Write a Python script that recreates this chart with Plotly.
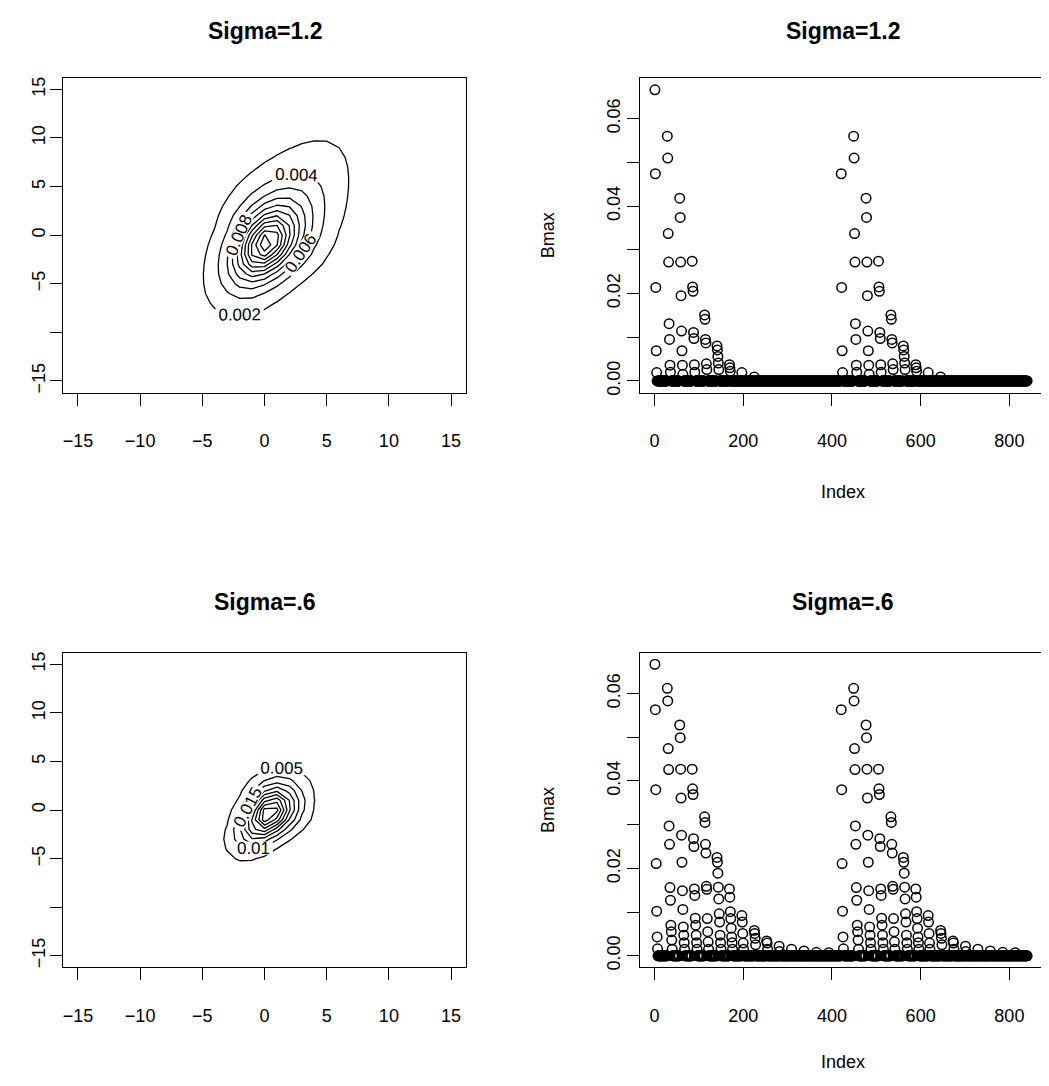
import numpy as np
import plotly.graph_objects as go

# ---------------- data ----------------
n_index = 840
block_size = 28

# Bmax (Sigma=1.2): visible values per block of 28 indices
top_blocks_half1 = [
    [0.0666, 0.0474, 0.0214, 0.0069, 0.0019],
    [0.0560, 0.0510, 0.0337, 0.0272, 0.0131, 0.0095, 0.0036, 0.0020],
    [0.0418, 0.0374, 0.0272, 0.0195, 0.0114, 0.0069, 0.0036, 0.0015],
    [0.0274, 0.0215, 0.0205, 0.0111, 0.0097, 0.0037, 0.0020],
    [0.0151, 0.0141, 0.0095, 0.0087, 0.0039, 0.0026],
    [0.0080, 0.0071, 0.0056, 0.0041, 0.0026],
    [0.0037, 0.0030, 0.0022],
    [0.0019],
    [0.0009],
    [], [], [], [], [], [],
]
top_blocks_half2 = [
    [0.0474, 0.0214, 0.0069, 0.0019],
    [0.0560, 0.0510, 0.0337, 0.0272, 0.0131, 0.0095, 0.0036, 0.0020],
    [0.0418, 0.0374, 0.0272, 0.0195, 0.0114, 0.0069, 0.0036, 0.0015],
    [0.0274, 0.0215, 0.0205, 0.0111, 0.0097, 0.0037, 0.0020],
    [0.0151, 0.0141, 0.0095, 0.0087, 0.0039, 0.0026],
    [0.0080, 0.0071, 0.0056, 0.0041, 0.0026],
    [0.0037, 0.0030, 0.0022],
    [0.0019],
    [0.0009],
    [], [], [], [], [], [],
]

# Bmax (Sigma=.6)
bot_blocks_half1 = [
    [0.0667, 0.0563, 0.0380, 0.0211, 0.0102, 0.0043, 0.0016],
    [0.0612, 0.0583, 0.0474, 0.0426, 0.0297, 0.0255, 0.0156, 0.0127, 0.0070, 0.0055, 0.0036, 0.0015],
    [0.0528, 0.0499, 0.0427, 0.0361, 0.0276, 0.0214, 0.0149, 0.0106, 0.0066, 0.0047, 0.0030, 0.0015],
    [0.0427, 0.0382, 0.0369, 0.0268, 0.0250, 0.0153, 0.0138, 0.0086, 0.0070, 0.0047, 0.0030, 0.0015],
    [0.0318, 0.0305, 0.0255, 0.0235, 0.0159, 0.0152, 0.0085, 0.0055, 0.0032, 0.0015],
    [0.0225, 0.0214, 0.0189, 0.0157, 0.0130, 0.0096, 0.0077, 0.0047, 0.0030, 0.0015],
    [0.0153, 0.0134, 0.0101, 0.0085, 0.0063, 0.0043, 0.0030, 0.0015],
    [0.0092, 0.0077, 0.0051, 0.0029, 0.0015],
    [0.0058, 0.0051, 0.0040, 0.0025],
    [0.0034, 0.0029, 0.0015],
    [0.0022, 0.0010],
    [0.0015],
    [0.0011],
    [0.0008],
    [0.0007],
]
bot_blocks_half2 = [
    [0.0563, 0.0380, 0.0211, 0.0102, 0.0043, 0.0016],
    [0.0612, 0.0583, 0.0474, 0.0426, 0.0297, 0.0255, 0.0156, 0.0127, 0.0070, 0.0055, 0.0036, 0.0015],
    [0.0528, 0.0499, 0.0427, 0.0361, 0.0276, 0.0214, 0.0149, 0.0106, 0.0066, 0.0047, 0.0030, 0.0015],
    [0.0427, 0.0382, 0.0369, 0.0268, 0.0250, 0.0153, 0.0138, 0.0086, 0.0070, 0.0047, 0.0030, 0.0015],
    [0.0318, 0.0305, 0.0255, 0.0235, 0.0159, 0.0152, 0.0085, 0.0055, 0.0032, 0.0015],
    [0.0225, 0.0214, 0.0189, 0.0157, 0.0130, 0.0096, 0.0077, 0.0047, 0.0030, 0.0015],
    [0.0153, 0.0134, 0.0101, 0.0085, 0.0063, 0.0043, 0.0030, 0.0015],
    [0.0092, 0.0077, 0.0051, 0.0029, 0.0015],
    [0.0058, 0.0051, 0.0040, 0.0025],
    [0.0034, 0.0029, 0.0015],
    [0.0022, 0.0010],
    [0.0015],
    [0.0011],
    [0.0008],
    [0.0007],
]

# density surfaces: peak, centre, tilt (deg), major scales (+/-), minor scale,
# minor-scale asymmetry, tail parameter, stretch length of the upper tail
grid_vals = np.arange(-15, 16, 1.0)
aspect_x = 1.265   # x stretch so that the shape parameters are in screen-isotropic units
dens_top = dict(peak=0.024, cx=0.15, cy=-0.8, theta=55, sa_pos=3.7, sa_neg=3.94,
                sb0=2.6, k=0.12, L=3.0, nu=1.5, La=10.0)
dens_bot = dict(peak=0.052, cx=0.4, cy=-0.3, theta=49, sa_pos=2.45, sa_neg=2.75,
                sb0=1.65, k=0.12, L=2.0, nu=3.0, La=None)
contour_top_levels = (0.002, 0.002)
contour_bot_levels = (0.005, 0.005)

xticks_contour = [-15, -10, -5, 0, 5, 10, 15]
yticks_contour = [-15, -10, -5, 0, 5, 10, 15]
ytext_contour = ["\u221215", "", "\u22125", "0", "5", "10", "15"]
xtext_contour = ["\u221215", "\u221210", "\u22125", "0", "5", "10", "15"]
xticks_index = [0, 200, 400, 600, 800]
yticks_bmax = [0.00, 0.01, 0.02, 0.03, 0.04, 0.05, 0.06]
ytext_bmax = ["0.00", "", "0.02", "", "0.04", "", "0.06"]


def expand(blocks):
    out = []
    for b in blocks:
        out.extend(list(b) + [0.0] * (block_size - len(b)))
    return out


def egg_density(X, Y, p):
    th = np.radians(p["theta"])
    du, dv = (X - p["cx"]) * aspect_x, Y - p["cy"]
    a = np.cos(th) * du + np.sin(th) * dv
    b = -np.sin(th) * du + np.cos(th) * dv
    sb = p["sb0"] * (1 + p["k"] * np.tanh(a / p["L"]))
    if p["La"]:
        a_w = np.where(a > 0, p["La"] * np.log1p(np.clip(a, 0, None) / p["La"]), a)
    else:
        a_w = a
    sa = np.where(a > 0, p["sa_pos"], p["sa_neg"])
    r2 = (a_w / sa) ** 2 + (b / sb) ** 2
    nu = p["nu"]
    return p["peak"] * (1 + r2 / nu) ** (-(nu + 2) / 2)


bmax_top = expand(top_blocks_half1) + expand(top_blocks_half2)
bmax_bot = expand(bot_blocks_half1) + expand(bot_blocks_half2)
index = list(range(1, n_index + 1))

GX, GY = np.meshgrid(grid_vals, grid_vals)
Z_top = egg_density(GX, GY, dens_top)
Z_bot = egg_density(GX, GY, dens_bot)

FONT = "Liberation Sans, Arial, Helvetica, sans-serif"
PAGE_OFF = 8            # default body margin of the html page
W, H = 1049 - PAGE_OFF, 1086 - PAGE_OFF


def fx(px):
    return (px - PAGE_OFF) / W


def fy(py):
    return 1 - (py - PAGE_OFF) / H


fig = go.Figure()


def add_contour(Z, levels, xa, ya):
    start, step = levels
    fig.add_trace(go.Contour(
        x=grid_vals, y=grid_vals, z=Z,
        xaxis=xa, yaxis=ya,
        contours=dict(coloring="lines", start=start, end=float(Z.max()), size=step,
                      showlabels=True,
                      labelfont=dict(family=FONT, size=17, color="black"),
                      labelformat=".3~f"),
        line=dict(width=1.3, smoothing=0),
        colorscale=[[0, "black"], [1, "black"]],
        showscale=False, hoverinfo="skip",
    ))


def add_scatter(vals, xa, ya):
    fig.add_trace(go.Scatter(
        x=index, y=vals, mode="markers", xaxis=xa, yaxis=ya,
        marker=dict(symbol="circle-open", size=9.5, color="black",
                    line=dict(width=1.5, color="black")),
        showlegend=False, hoverinfo="skip",
    ))


add_contour(Z_top, contour_top_levels, "x", "y")
add_scatter(bmax_top, "x2", "y2")
add_contour(Z_bot, contour_bot_levels, "x3", "y3")
add_scatter(bmax_bot, "x4", "y4")

left_dom = [fx(63), fx(466)]
right_dom = [fx(640), fx(1042)]
top_dom = [fy(393), fy(77)]
bot_dom = [fy(970), fy(654)]

common = dict(showline=True, linecolor="black", linewidth=1, mirror=True,
              ticks="outside", ticklen=12, tickwidth=1, tickcolor="black",
              showgrid=False, zeroline=False,
              tickfont=dict(family=FONT, size=18, color="black"))

cx_rng = [-16.2, 16.2]
ix_rng = [1 - 0.04 * 839, 840 + 0.04 * 839]
by_rng = [-0.04 * 0.0667, 0.0667 * 1.04]


def xa_contour(dom, anchor):
    return dict(common, domain=dom, anchor=anchor, range=cx_rng,
                tickmode="array", tickvals=xticks_contour, ticktext=xtext_contour,
                ticklabelstandoff=20)


def ya_contour(dom, anchor):
    return dict(common, domain=dom, anchor=anchor, range=cx_rng,
                tickmode="array", tickvals=yticks_contour, ticktext=ytext_contour,
                tickangle=-90, ticklabelstandoff=-2)


def xa_index(dom, anchor):
    return dict(common, domain=dom, anchor=anchor, range=ix_rng,
                tickmode="array", tickvals=xticks_index,
                ticktext=[str(v) for v in xticks_index], ticklabelstandoff=20)


def ya_bmax(dom, anchor):
    return dict(common, domain=dom, anchor=anchor, range=by_rng,
                tickmode="array", tickvals=yticks_bmax, ticktext=ytext_bmax,
                tickangle=-90, ticklabelstandoff=0)


fig.update_layout(
    width=W, height=H, margin=dict(l=0, r=0, t=0, b=0),
    paper_bgcolor="white", plot_bgcolor="white", showlegend=False,
    xaxis=xa_contour(left_dom, "y"), yaxis=ya_contour(top_dom, "x"),
    xaxis2=xa_index(right_dom, "y2"), yaxis2=ya_bmax(top_dom, "x2"),
    xaxis3=xa_contour(left_dom, "y3"), yaxis3=ya_contour(bot_dom, "x3"),
    xaxis4=xa_index(right_dom, "y4"), yaxis4=ya_bmax(bot_dom, "x4"),
)

titles = [("Sigma=1.2", 264.5, 30), ("Sigma=1.2", 843, 30),
          ("Sigma=.6", 264.5, 603), ("Sigma=.6", 843, 603)]
for txt, px, py in titles:
    fig.add_annotation(text="<b>%s</b>" % txt, x=fx(px), y=fy(py), xref="paper", yref="paper",
                       showarrow=False, font=dict(family=FONT, size=23, color="black"),
                       xanchor="center", yanchor="middle")
for py in (493, 1065):
    fig.add_annotation(text="Index", x=fx(843), y=fy(py), xref="paper", yref="paper",
                       showarrow=False, font=dict(family=FONT, size=18, color="black"),
                       xanchor="center", yanchor="middle")
for py in (235, 812):
    fig.add_annotation(text="Bmax", x=fx(548), y=fy(py), xref="paper", yref="paper",
                       showarrow=False, textangle=-90, font=dict(family=FONT, size=18, color="black"),
                       xanchor="center", yanchor="middle")

fig.write_html("out.html")
